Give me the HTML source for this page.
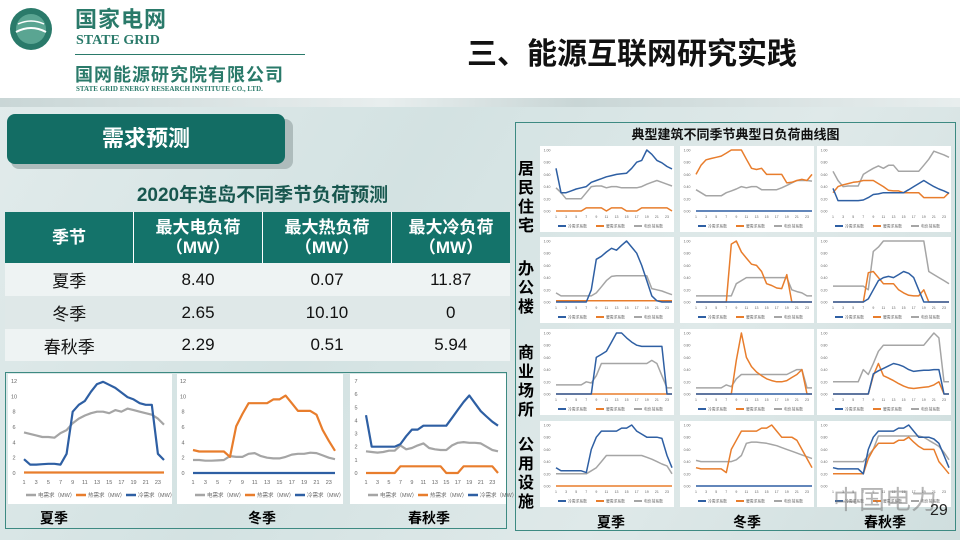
<!DOCTYPE html>
<html><head><meta charset="utf-8"><style>
body{margin:0;width:960px;height:540px;overflow:hidden;font-family:"Liberation Sans","Noto Sans CJK SC",sans-serif;background:linear-gradient(120deg,#e3ecec 0%,#d3e2e2 40%,#dfe9e9 70%,#cfdede 100%);position:relative}
.a{position:absolute}
.h{line-height:1}
table{border-collapse:collapse}
</style></head><body>
<div class="a" style="left:0;top:0;width:960px;height:98px;background:#fff"></div>
<div class="a" style="left:0;top:98px;width:960px;height:9px;background:linear-gradient(90deg,#c9d6d6,#e8eeee 40%,#c9d6d6 60%,#e8eeee)"></div>
<svg class="a" style="left:4px;top:6px" width="54" height="46"><circle cx="27" cy="23" r="21" fill="#2a7a6a"/><circle cx="27" cy="23" r="15" fill="#5aa592"/><path d="M12 26 Q27 18 42 26" stroke="#fff" stroke-width="2" fill="none"/><path d="M14 18 Q27 12 40 18" stroke="#fff" stroke-width="1.5" fill="none"/></svg>
<div class="a h" style="left:75px;top:9px;font-size:22px;font-weight:bold;color:#2a7a6a;letter-spacing:1px">国家电网</div>
<div class="a h" style="left:76px;top:34px;font-family:'Liberation Serif',serif;font-size:14px;font-weight:bold;color:#2a7a6a">STATE GRID</div>
<div class="a" style="left:75px;top:54px;width:230px;height:1px;background:#2a7a6a"></div>
<div class="a h" style="left:75px;top:66px;font-size:18px;font-weight:bold;color:#2a7a6a;letter-spacing:1px">国网能源研究院有限公司</div>
<div class="a h" style="left:76px;top:86px;font-family:'Liberation Serif',serif;font-size:7px;font-weight:bold;color:#2a7a6a">STATE GRID ENERGY RESEARCH INSTITUTE CO., LTD.</div>
<div class="a h" style="left:467px;top:40px;font-size:30px;font-weight:bold;color:#111">三、能源互联网研究实践</div>

<div class="a" style="left:11px;top:119px;width:282px;height:50px;background:#aebcbc;border-radius:8px"></div>
<div class="a" style="left:7px;top:114px;width:278px;height:50px;background:#136d64;border-radius:8px;color:#fff;font-size:22px;font-weight:bold;text-align:center;line-height:50px">需求预测</div>
<div class="a" style="left:0;top:180px;width:525px;text-align:center;font-size:19px;font-weight:bold;color:#18574f">2020年连岛不同季节负荷预测</div>
<table class="a" style="left:5px;top:212px;width:505px;font-size:17px;text-align:center;color:#111">
<tr style="background:#14736a;color:#fff;font-weight:bold;height:51px;line-height:20px"><td style="width:126px;border-right:1px solid #fff">季节</td><td style="width:126px;border-right:1px solid #fff">最大电负荷<br>（MW）</td><td style="width:126px;border-right:1px solid #fff">最大热负荷<br>（MW）</td><td>最大冷负荷<br>（MW）</td></tr>
<tr style="background:#eef3f3;height:33px"><td>夏季</td><td>8.40</td><td>0.07</td><td>11.87</td></tr>
<tr style="background:#dfe8e8;height:33px"><td>冬季</td><td>2.65</td><td>10.10</td><td>0</td></tr>
<tr style="background:#eef3f3;height:32px"><td>春秋季</td><td>2.29</td><td>0.51</td><td>5.94</td></tr>
</table>

<div class="a" style="left:5px;top:372px;width:500px;height:155px;border:1px solid #3d8a82"></div>
<div class="a" style="left:515px;top:122px;width:439px;height:407px;border:1px solid #3d8a82"></div>
<div class="a" style="left:515px;top:124px;width:441px;text-align:center;font-size:13px;font-weight:bold;color:#111">典型建筑不同季节典型日负荷曲线图</div>
<div class="a" style="left:518px;top:160px;width:20px;font-size:16px;font-weight:bold;line-height:19px">居<br>民<br>住<br>宅</div>
<div class="a" style="left:518px;top:260px;width:20px;font-size:16px;font-weight:bold;line-height:19px">办<br>公<br>楼</div>
<div class="a" style="left:518px;top:344px;width:20px;font-size:16px;font-weight:bold;line-height:19px">商<br>业<br>场<br>所</div>
<div class="a" style="left:518px;top:436px;width:20px;font-size:16px;font-weight:bold;line-height:19px">公<br>用<br>设<br>施</div>
<svg id="s" class="a" style="left:0;top:0" width="960" height="540"></svg>
<div class="a" style="left:40px;top:508px;font-size:14px;font-weight:bold">夏季</div>
<div class="a" style="left:248px;top:508px;font-size:14px;font-weight:bold">冬季</div>
<div class="a" style="left:408px;top:508px;font-size:14px;font-weight:bold">春秋季</div>
<div class="a" style="left:597px;top:512px;font-size:14px;font-weight:bold">夏季</div>
<div class="a" style="left:733px;top:512px;font-size:14px;font-weight:bold">冬季</div>
<div class="a" style="left:864px;top:512px;font-size:14px;font-weight:bold">春秋季</div>
<div class="a" style="left:833px;top:480px;font-size:26px;color:rgba(120,120,120,0.55)">中国电力</div>
<div class="a" style="left:930px;top:502px;font-size:16px;color:#222">29</div>
<script>
var S=document.getElementById('s'),h='';
var G='#a5a5a5',O='#e87d2c',B='#2e5fa3';
function pl(d,x0,x1,y0,y1,max,c,w){var p=[];for(var i=0;i<d.length;i++)p.push((x0+(x1-x0)*i/23).toFixed(1)+','+(y0-(y0-y1)*d[i]/max).toFixed(1));h+='<polyline points="'+p.join(' ')+'" fill="none" stroke="'+c+'" stroke-width="'+w+'" stroke-linejoin="round"/>';}
function t(x,y,s,f,c,a){h+='<text x="'+x+'" y="'+y+'" font-size="'+f+'" fill="'+(c||'#666')+'" text-anchor="'+(a||'middle')+'">'+s+'</text>';}
function big(px,pw,max,step,ser,legs){var top=374,y0=473,y1=381,x0=px+16,x1=px+pw-8;h+='<rect x="'+px+'" y="'+top+'" width="'+pw+'" height="130" fill="#fff"/>';
for(var v=0;v<=max;v+=step)t(px+6,y0-(y0-y1)*v/max+2,v,5.5);
for(var i=1;i<=23;i+=2)t(x0+(x1-x0)*(i-1)/23,484,i,5.5);
ser.forEach(function(s){pl(s[0],x0,x1,y0,y1,max,s[1],2.2);});
var lx=px+18;legs.forEach(function(l,k){var x=lx+k*50;h+='<line x1="'+x+'" y1="495" x2="'+(x+10)+'" y2="495" stroke="'+l[1]+'" stroke-width="2.5"/>';t(x+12,497,l[0],5.5,'#666','start');});}
var L=[['电需求（MW）',G],['热需求（MW）',O],['冷需求（MW）',B]];
function f(n,v){var a=[];for(var i=0;i<n;i++)a.push(v);return a;}
big(8,164,12,2,[[[5.3,5.1,4.9,4.7,4.7,4.6,5.2,5.6,6.5,7.1,7.5,7.8,8,8,7.8,8.2,8,8.4,8.2,8,7.8,7.6,7.1,6.3],G],[f(24,.07),O],[[1.8,1.1,1.1,1.15,1.2,1.2,1.1,2.5,8,8.9,9.4,10.6,11.6,11.9,11.5,11.1,10.5,9.9,9.6,9.1,8.9,8.9,2.5,1.7],B]],L);
big(177,166,12,2,[[[1.7,1.7,1.6,1.6,1.65,1.7,2.2,2.1,2.1,2.5,2.6,2.2,2,1.9,1.9,2.1,2.4,2.5,2.5,2.65,2.6,2.3,2,1.8],G],[[3,2.8,2.8,2.8,2.8,2.8,2.1,6.1,7.7,9.1,9.1,9.1,9.1,9.6,9.6,10.1,9.1,8.1,8.1,8.1,7.6,5.6,4.2,2.9],O],[f(24,0),B]],L);
big(350,156,7,1,[[[1.65,1.6,1.55,1.6,1.7,1.7,2.1,1.8,1.9,2.1,2.25,1.9,1.8,1.75,1.75,2.1,2.3,2.35,2.3,2.3,2.25,2,1.75,1.65],G],[[0,0,0,0,0,0,.51,.51,.51,.51,.51,.51,.51,.51,0,0,0,.51,.51,.51,.51,.51,.51,0],O],[[4.4,2,2,2,2,2,2.2,2.8,3.3,3.3,3.6,3.6,3.6,3.6,3.6,4.2,4.8,5.4,5.9,5.3,4.7,4.3,3.9,3.6],B]],L);
var z=f(24,0);
var D=[
[[.7,.3,.3,.33,.36,.38,.4,.47,.5,.53,.56,.58,.6,.61,.62,.7,.8,.83,1,.93,.83,.79,.73,.69],[0,0,0,0,0,0,.05,.05,.05,.05,0,.05,.05,.05,0,0,0,.05,.05,.05,.05,.05,.05,0],[.38,.3,.2,.2,.2,.2,.3,.4,.41,.41,.38,.4,.4,.38,.38,.38,.38,.4,.44,.47,.5,.47,.44,.41]],
[z,[.6,.75,.84,.86,.88,.9,.95,1,1,1,.85,.7,.68,.7,.6,.6,.6,.6,.46,.47,.5,.52,.5,.6],[.35,.3,.25,.25,.25,.25,.3,.33,.36,.4,.38,.4,.4,.35,.35,.35,.35,.38,.42,.46,.5,.5,.5,.49]],
[[.37,.17,.17,.17,.17,.17,.18,.22,.27,.28,.3,.3,.3,.3,.3,.35,.4,.45,.5,.45,.4,.36,.33,.29],[.3,.4,.43,.45,.47,.48,.5,.5,.5,.45,.4,.34,.33,.33,.3,.3,.3,.3,.22,.22,.22,.22,.22,.3],[.65,.5,.4,.41,.41,.41,.6,.65,.7,.74,.7,.75,.75,.65,.65,.65,.65,.65,.75,.85,.98,.95,.92,.88]],
[[0,0,0,0,0,0,0,.2,.7,.75,.82,.88,.85,.93,1,.9,.8,.6,.35,.1,.02,0,0,0],f(24,.02),[.15,.1,.1,.1,.1,.1,.1,.1,.15,.25,.35,.42,.43,.43,.43,.43,.43,.43,.43,.22,.2,.18,.15,.12]],
[z,[0,0,0,0,0,0,0,.95,1,.82,.72,.62,.6,.5,.3,.27,.23,.22,.45,0,0,0,0,0],[.1,.1,.1,.1,.1,.1,.1,.1,.3,.35,.4,.4,.4,.4,.4,.4,.4,.4,.4,.2,.17,.15,.1,.1]],
[[0,0,0,0,0,0,0,.05,.2,.35,.4,.42,.4,.45,.5,.47,.4,.2,0,0,0,0,0,0],[0,0,0,0,0,0,0,.48,.5,.4,.3,.3,.3,.2,.15,.11,.1,.1,.2,0,0,0,0,0],[.26,.26,.26,.26,.26,.26,.26,.2,.83,.9,1,1,1,1,1,1,1,1,1,.5,.45,.4,.35,.3]],
[[0,0,0,0,0,0,0,0,.6,.65,.7,.85,1,1,.92,.85,.8,.78,.78,.78,.78,.78,0,0],z,[.15,.15,.15,.15,.15,.15,.2,.18,.3,.5,.5,.5,.5,.5,.5,.5,.5,.5,.5,.55,.5,.3,.1,.1]],
[z,[0,0,0,0,0,0,0,0,.55,1,.6,.45,.36,.3,.25,.22,.2,.2,.22,.27,.32,.4,0,0],[.1,.1,.1,.1,.1,.1,.15,.12,.25,.32,.32,.32,.32,.32,.32,.32,.32,.32,.32,.36,.4,.4,.1,.1]],
[[0,0,0,0,0,0,0,0,.33,.38,.42,.46,.5,.48,.45,.4,.37,.38,.39,.39,.4,.4,0,0],[0,0,0,0,0,0,0,0,.3,.5,.3,.26,.22,.17,.13,.1,.09,.1,.11,.12,.15,.2,0,0],[.2,.2,.2,.2,.2,.2,.4,.32,.5,.7,.8,.8,.8,.8,.8,.8,.8,.8,.8,.9,1,.92,.2,.2]],
[[.3,.25,.25,.25,.25,.25,.22,.6,.8,.9,.9,.9,.9,.95,.95,1,.9,.85,.8,.8,.8,.78,.5,.3],z,[.2,.2,.2,.2,.2,.2,.2,.25,.3,.4,.5,.5,.5,.5,.5,.5,.5,.5,.47,.44,.4,.36,.33,.2]],
[z,[.3,.28,.28,.28,.28,.28,.22,.6,.75,.9,.9,.9,.9,.95,.95,1,.9,.8,.8,.8,.75,.6,.45,.3],[.42,.4,.4,.4,.4,.4,.4,.4,.43,.5,.7,.72,.72,.71,.7,.68,.66,.63,.6,.57,.54,.51,.48,.45]],
[[.3,.28,.28,.28,.28,.28,.2,.6,.8,.9,.9,.9,.9,.95,.95,1,.9,.8,.8,.8,.77,.7,.5,.3],[.2,.2,.2,.2,.2,.2,.2,.45,.6,.7,.7,.7,.7,.75,.75,.8,.72,.65,.6,.6,.6,.4,.3,.2],[.4,.4,.4,.4,.4,.4,.4,.5,.6,.82,.82,.82,.82,.82,.82,.82,.82,.82,.8,.75,.7,.65,.55,.43]]];
var cx=[540,680,817],ry=[146,237,329,421];
for(var r=0;r<4;r++)for(var c=0;c<3;c++){var px=cx[c],py=ry[r],d=D[r*3+c];h+='<rect x="'+px+'" y="'+py+'" width="134" height="86" fill="#fff"/>';
var x0=px+16,x1=px+132,y0=py+65,y1=py+4;
for(var v=0;v<=5;v++)t(px+7,y0-(y0-y1)*v/5+1.5,(v*0.2).toFixed(2),3.5);
for(var i=1;i<=23;i+=2)t(x0+(x1-x0)*(i-1)/23,py+72,i,3.5);
pl(d[2],x0,x1,y0,y1,1,G,1.5);pl(d[1],x0,x1,y0,y1,1,O,1.5);pl(d[0],x0,x1,y0,y1,1,B,1.5);
var lg=[['冷需求系数',B],['暖需求系数',O],['电负荷系数',G]];lg.forEach(function(l,k){var x=px+18+k*38;h+='<line x1="'+x+'" y1="'+(py+80)+'" x2="'+(x+8)+'" y2="'+(py+80)+'" stroke="'+l[1]+'" stroke-width="2"/>';t(x+10,py+81.5,l[0],3.8,'#666','start');});}
S.innerHTML=h;
</script>
</body></html>
